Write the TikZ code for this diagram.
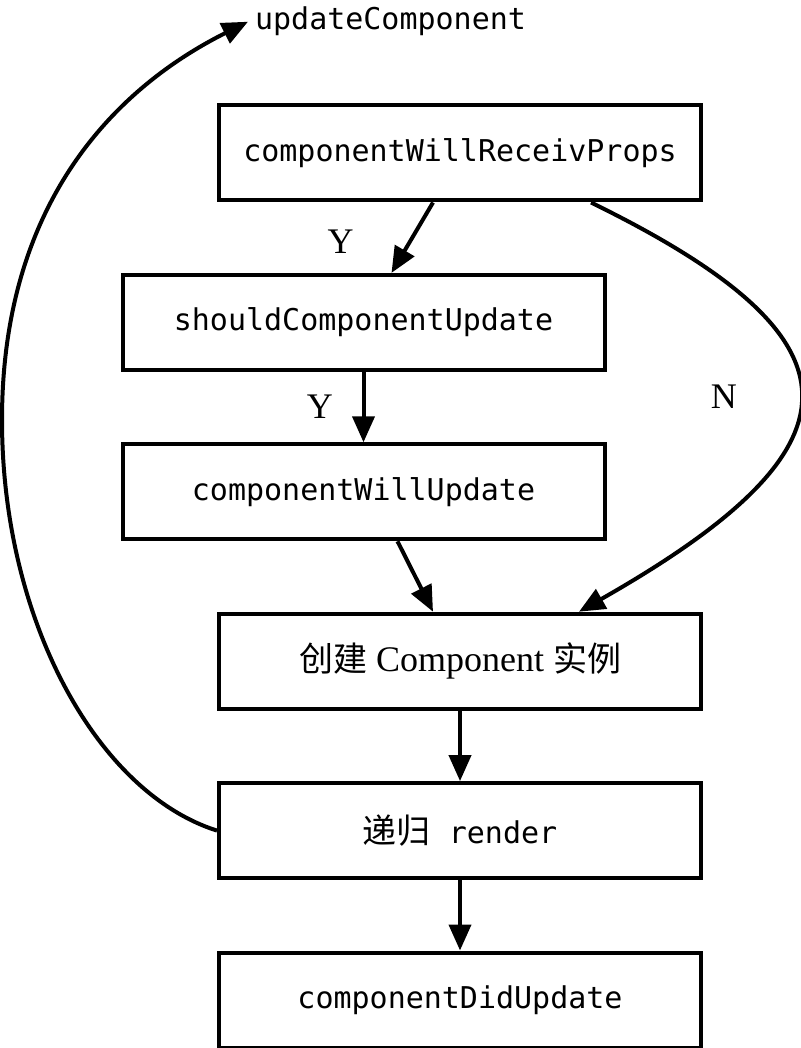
\documentclass[tikz,border=0pt]{standalone}
\usepackage{fontspec}
\setmainfont{Liberation Serif}
\setmonofont{DejaVu Sans Mono}
\newfontfamily\cjk{Noto Sans CJK SC}
\usetikzlibrary{arrows.meta, positioning}

\begin{document}
\begin{tikzpicture}[
  node distance=35.2pt,
  box/.style={draw, line width=2pt, minimum width=241pt, minimum height=47.5pt,
              inner sep=3pt, font=\fontsize{15}{18}\selectfont\ttfamily},
  arr/.style={-{Triangle[length=13pt, width=11pt]}, line width=2pt},
  lbl/.style={font=\fontsize{18}{20}\selectfont}]
  \useasboundingbox (0,0) rectangle (400pt,-524pt);
  \node[box] (receive) at (230pt,-76.5pt) {componentWillReceivProps};
  \node[box, below=of receive, xshift=-48.25pt] (should) {shouldComponentUpdate};
  \node[box, below=of should] (willupd) {componentWillUpdate};
  \node[box, below=of willupd, xshift=48.25pt, font=\fontsize{18}{20}\selectfont\rmfamily]
        (create) {{\cjk\fontsize{17}{20}\selectfont 创建} Component {\cjk\fontsize{17}{20}\selectfont 实例}};
  \node[box, below=of create] (render) {{\cjk\fontsize{17}{20}\selectfont 递归} render};
  \node[box, below=of render] (didupd) {componentDidUpdate};
  \node[anchor=base west, font=\fontsize{15}{18}\selectfont\ttfamily] (upd)
        at (124pt,-15pt) {updateComponent};
  \coordinate (loopleft) at (1pt,-210pt);
  \draw[arr] ([xshift=-13.5pt]receive.south) -- node[lbl, left=24pt, pos=0.55]{Y}
        ([xshift=14pt]should.north);
  \draw[arr] (should.south) -- node[lbl, left=11pt]{Y} (willupd.north);
  \draw[arr] ([xshift=17pt]willupd.south) -- ([xshift=-13.5pt]create.north);
  \draw[arr] ([xshift=65.5pt]receive.south) .. controls +(140pt,-68.5pt)
        and +(146pt,83pt) .. node[lbl, left=27pt]{N} ([xshift=59.5pt]create.north);
  \draw[arr] (create) -- (render);
  \draw[arr] (render) -- (didupd);
  \draw[arr] (render.west) .. controls +(-60pt,19pt) and +(0,-100pt) .. (loopleft)
        .. controls +(0,110pt) and +(-65pt,-32.5pt) .. (upd.west);
\end{tikzpicture}
\end{document}
